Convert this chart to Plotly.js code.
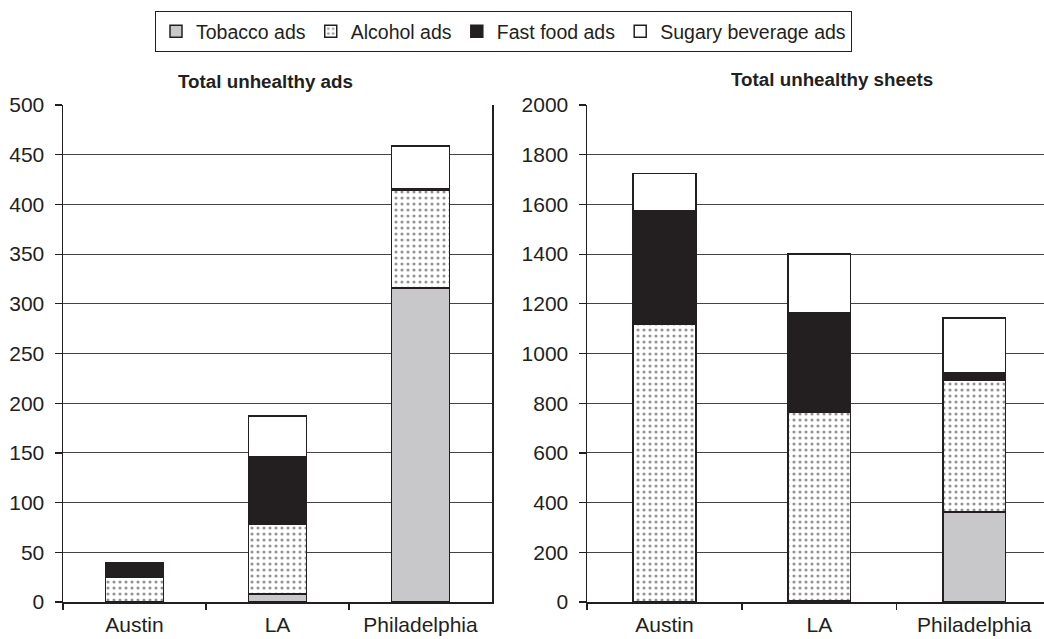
<!DOCTYPE html>
<html>
<head>
<meta charset="utf-8">
<script src="https://cdn.plot.ly/plotly-3.0.1.min.js"></script>
<style>
html,body{margin:0;padding:0;background:#fff;overflow:hidden;}
#chart{width:1044px;height:639px;}
</style>
</head>
<body>
<div id="chart"></div>
<script>
const cities = ["Austin", "LA", "Philadelphia"];
const seriesNames = ["Tobacco ads", "Alcohol ads", "Fast food ads", "Sugary beverage ads"];

// Total unhealthy ads
const adsTobacco = [0, 8, 316];
const adsAlcohol = [25, 70, 98];
const adsFastFood = [14, 68, 2];
const adsSugary = [0, 41, 43];

// Total unhealthy sheets
const sheetsTobacco = [0, 5, 363];
const sheetsAlcohol = [1119, 757, 530];
const sheetsFastFood = [456, 402, 31];
const sheetsSugary = [150, 236, 218];

const leftTitle = "Total unhealthy ads";
const rightTitle = "Total unhealthy sheets";

const outline = {color: "#231f20", width: 1.5};
const styles = [
  {color: "#c8c8ca", line: outline},
  {color: "#ffffff", line: outline, pattern: {shape: ".", fgcolor: "#2a2a2a", bgcolor: "#ffffff", size: 6, solidity: 0.22, fillmode: "overlay"}},
  {color: "#231f20", line: outline},
  {color: "#ffffff", line: outline}
];

const adsData = [adsTobacco, adsAlcohol, adsFastFood, adsSugary];
const sheetsData = [sheetsTobacco, sheetsAlcohol, sheetsFastFood, sheetsSugary];

const traces = [];
seriesNames.forEach((name, i) => {
  traces.push({type: "bar", name: name, x: cities, y: adsData[i], marker: styles[i],
    xaxis: "x", yaxis: "y", legendgroup: name, showlegend: true, hoverinfo: "x+y+name"});
});
seriesNames.forEach((name, i) => {
  traces.push({type: "bar", name: name, x: cities, y: sheetsData[i], marker: styles[i],
    xaxis: "x2", yaxis: "y2", legendgroup: name, showlegend: false, hoverinfo: "x+y+name"});
});

const W = 1044, H = 639;
const font = {family: "Liberation Sans, Arial, sans-serif", color: "#231f20"};

const yBase = {
  showline: true, linecolor: "#231f20", linewidth: 1.5,
  ticks: "outside", ticklen: 7, tickcolor: "#231f20", tickwidth: 1.2,
  showgrid: true, gridcolor: "#444", gridwidth: 1,
  zeroline: false, tickfont: {size: 21, color: "#231f20"},
  ticklabelstandoff: 6, fixedrange: true
};
const xBase = {
  showline: true, linecolor: "#231f20", linewidth: 1.5,
  ticks: "outside", ticklen: 6, tickcolor: "#231f20", tickwidth: 1.2,
  tickson: "boundaries", showgrid: false, zeroline: false,
  tickfont: {size: 21, color: "#231f20"}, ticklabelstandoff: 3, fixedrange: true
};

const layout = {
  width: W, height: H,
  margin: {l: 0, r: 0, t: 0, b: 0},
  paper_bgcolor: "#ffffff", plot_bgcolor: "#ffffff",
  font: font,
  barmode: "stack",
  bargap: 0.595,
  xaxis: Object.assign({}, xBase, {domain: [63/W, 492/W], anchor: "y", range: [-0.5, 2.5]}),
  yaxis: Object.assign({}, yBase, {domain: [(H-602)/H, (H-105)/H], anchor: "x", range: [0, 500], dtick: 50, mirror: true}),
  xaxis2: Object.assign({}, xBase, {domain: [587/W, 1], anchor: "y2", range: [-0.5, 2.45]}),
  yaxis2: Object.assign({}, yBase, {domain: [(H-602)/H, (H-105)/H], anchor: "x2", range: [0, 2000], dtick: 200}),
  legend: {
    orientation: "h", x: 155/W, xanchor: "left", y: 1 - 11/H, yanchor: "top",
    bordercolor: "#231f20", borderwidth: 1, bgcolor: "#ffffff",
    font: {size: 19.5, color: "#231f20"}, itemwidth: 30, traceorder: "normal"
  },
  annotations: [
    {text: "<b>" + leftTitle + "</b>", xref: "paper", yref: "paper", x: 265/W, y: 1 - 82/H,
     xanchor: "center", yanchor: "middle", showarrow: false, font: {size: 18.8, color: "#231f20"}},
    {text: "<b>" + rightTitle + "</b>", xref: "paper", yref: "paper", x: 832/W, y: 1 - 79/H,
     xanchor: "center", yanchor: "middle", showarrow: false, font: {size: 18.8, color: "#231f20"}}
  ],
  showlegend: true
};

Plotly.newPlot("chart", traces, layout, {displayModeBar: false, staticPlot: true});
</script>
</body>
</html>
